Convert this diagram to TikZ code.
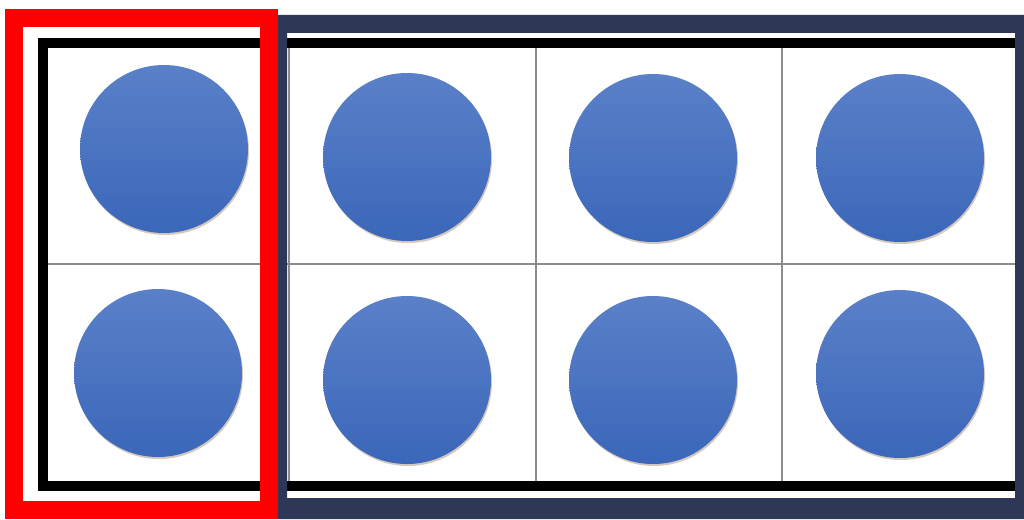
\documentclass[tikz,border=0pt]{standalone}
\usetikzlibrary{shadows}
\definecolor{navy}{HTML}{2E3856}
\definecolor{dotTop}{HTML}{5A80C8}
\definecolor{dotBot}{HTML}{3B67BA}
\definecolor{gridgray}{HTML}{8C8C8C}
\tikzset{
  dot/.style={circle, minimum size=168pt, inner sep=0pt, top color=dotTop, bottom color=dotBot, draw=none,
    drop shadow={shadow xshift=1pt, shadow yshift=-2pt, fill=brown!60!black, opacity=0.3}},
  frameline/.style={line width=10pt, black},
  gridline/.style={line width=2pt, gridgray}
}
\begin{document}
\begin{tikzpicture}[x=1pt,y=-1pt]
\fill[white] (0,0) rectangle (1024,519);
\useasboundingbox (0,0) rectangle (1024,519);
% grid
\draw[gridline] (289,43) -- (289,486);
\draw[gridline] (536,43) -- (536,486);
\draw[gridline] (782,43) -- (782,486);
\draw[gridline] (43,264) -- (1015,264);
\draw[frameline] (1015,43) -- (38,43);
\draw[frameline] (43,38) -- (43,491);
\draw[frameline] (38,486) -- (1015,486);
% dots
\node[dot] (a1) at (164,149) {};
\node[dot] (a2) at (158,373) {};
\node[dot] (b1) at (407,157) {};
\node[dot] (b2) at (407,380) {};
\node[dot] (c1) at (653,158) {};
\node[dot] (c2) at (653,380) {};
\node[dot] (d1) at (900,158) {};
\node[dot] (d2) at (900,374) {};
% navy frame
\fill[navy, even odd rule] (278,15) rectangle (1024,519) (287,33) rectangle (1015,498);
% red frame
\draw[red, line width=18pt] (14,18.5) rectangle (269,510);
\end{tikzpicture}
\end{document}
